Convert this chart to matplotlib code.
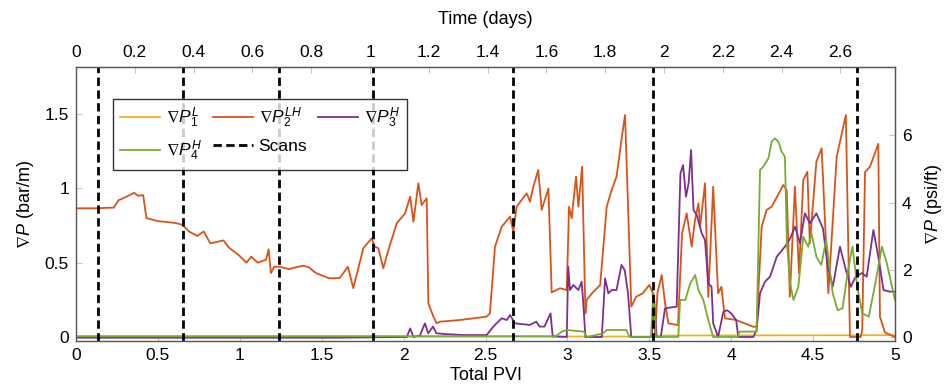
import matplotlib
matplotlib.use("Agg")
import matplotlib.pyplot as plt

plt.rcParams['font.family'] = ['Liberation Sans', 'DejaVu Sans']
plt.rcParams['mathtext.fontset'] = 'custom'
plt.rcParams['mathtext.rm'] = 'Liberation Sans'
plt.rcParams['mathtext.it'] = 'Liberation Sans:italic'
plt.rcParams['mathtext.fallback'] = 'stixsans'

# ---- data (x = total PVI, y = bar/m) ----
pvi_p1 = [0, 3.5, 3.6, 5.0]
dp1 = [0.003, 0.003, 0.01, 0.012]

pvi_p2 = [0, 0.13, 0.20, 0.23, 0.26, 0.30, 0.355, 0.38, 0.41, 0.43, 0.50, 0.61, 0.65, 0.69, 0.74,
          0.78, 0.82, 0.90, 0.935, 0.995, 1.04, 1.07, 1.11, 1.16, 1.176, 1.19, 1.21, 1.24, 1.30,
          1.384, 1.42, 1.465, 1.545, 1.61, 1.66, 1.693, 1.754, 1.805, 1.825, 1.846, 1.876, 1.907,
          1.958, 2.009, 2.04, 2.06, 2.09, 2.11, 2.141, 2.151, 2.182, 2.202, 2.222, 2.35, 2.507,
          2.527, 2.558, 2.599, 2.65, 2.67, 2.69, 2.751, 2.772, 2.792, 2.822, 2.843, 2.884, 2.904,
          2.955, 2.996, 3.01, 3.026, 3.053, 3.067, 3.09, 3.11, 3.118, 3.15, 3.20, 3.24, 3.27, 3.30,
          3.33, 3.352, 3.39, 3.42, 3.46, 3.50, 3.52, 3.535, 3.55, 3.576, 3.596, 3.617, 3.675, 3.70,
          3.728, 3.759, 3.779, 3.80, 3.81, 3.84, 3.86, 3.89, 3.92, 3.94, 3.962, 4.03, 4.135, 4.155,
          4.186, 4.216, 4.247, 4.318, 4.339, 4.358, 4.389, 4.414, 4.44, 4.465, 4.48, 4.52, 4.552,
          4.593, 4.644, 4.70, 4.725, 4.79, 4.80, 4.817, 4.847, 4.898, 4.908, 4.939, 5.0]
dp2 = [0.866, 0.866, 0.87, 0.87, 0.92, 0.94, 0.97, 0.95, 0.955, 0.80, 0.78, 0.767, 0.754, 0.71, 0.68,
       0.71, 0.63, 0.65, 0.60, 0.55, 0.50, 0.54, 0.50, 0.52, 0.59, 0.43, 0.473, 0.473, 0.457,
       0.48, 0.47, 0.43, 0.395, 0.397, 0.473, 0.328, 0.597, 0.664, 0.608, 0.597, 0.462, 0.585,
       0.765, 0.832, 0.944, 0.776, 1.034, 0.888, 0.933, 0.227, 0.137, 0.092, 0.103, 0.115, 0.137,
       0.159, 0.608, 0.742, 0.81, 0.709, 0.877, 0.967, 0.911, 1.011, 1.124, 0.855, 1.0, 0.30,
       0.328, 0.316, 0.877, 0.799, 1.079, 0.877, 1.146, 0.159, 0.249, 0.294, 0.35, 0.877, 0.989, 1.079,
       1.326, 1.494, 0.204, 0.271, 0.294, 0.35, 0.30, 0.02, 0.30, 0.417, 0.227, 0.092, 0.08, 0.698,
       0.832, 0.608, 0.787, 0.90, 0.742, 1.034, 0.27, 1.011, 0.294, 0.338, 0.126, 0.114, 0.069, 0.069,
       0.742, 0.855, 0.877, 1.023, 0.989, 0.271, 1.011, 0.429, 1.057, 1.112, 0.63, 1.18, 1.27,
       0.294, 1.213, 1.494, 0.0, 0.0, 0.05, 1.11, 1.146, 1.30, 0.137, 0.03, 0.0]

pvi_p3 = [0, 1.6, 2.0, 2.02, 2.04, 2.06, 2.10, 2.13, 2.15, 2.18, 2.2, 2.25, 2.365, 2.507, 2.548,
          2.599, 2.63, 2.65, 2.68, 2.77, 2.81, 2.83, 2.86, 2.897, 2.91, 2.996, 3.005, 3.016, 3.036,
          3.067, 3.087, 3.097, 3.11, 3.21, 3.23, 3.25, 3.27, 3.30, 3.33, 3.35, 3.37, 3.39, 3.514,
          3.53, 3.545, 3.57, 3.596, 3.667, 3.69, 3.706, 3.724, 3.74, 3.755, 3.77, 3.79, 3.82, 3.84,
          3.86, 3.88, 3.89, 3.92, 3.952, 3.975, 4.0, 4.03, 4.043, 4.135, 4.155, 4.176, 4.206, 4.237,
          4.278, 4.328, 4.36, 4.39, 4.42, 4.45, 4.48, 4.52, 4.56, 4.59, 4.62, 4.664, 4.70, 4.73,
          4.76, 4.797, 4.827, 4.868, 4.898, 4.93, 4.97, 5.0]
dp3 = [-0.005, -0.005, 0.0, 0.0, 0.058, 0.0, 0.01, 0.092, 0.025, 0.07, 0.025, 0.02, 0.013, 0.013, 0.07,
       0.126, 0.114, 0.148, 0.092, 0.081, 0.103, 0.07, 0.07, 0.159, 0.005, 0.0, 0.473, 0.316, 0.35,
       0.316, 0.372, 0.227, 0.0, 0.0, 0.395, 0.294, 0.316, 0.316, 0.485, 0.45, 0.294, 0.0, 0.0,
       0.25, 0.0, 0.0, 0.193, 0.204, 1.10, 1.157, 0.944, 1.034, 1.258, 0.855, 0.821, 0.698, 0.653,
       0.361, 0.338, 0.092, 0.0, 0.17, 0.18, 0.159, 0.114, 0.0, 0.0, 0.047, 0.294, 0.372, 0.406,
       0.54, 0.608, 0.664, 0.742, 0.63, 0.832, 0.765, 0.832, 0.731, 0.473, 0.338, 0.608, 0.45, 0.338,
       0.406, 0.43, 0.406, 0.72, 0.54, 0.316, 0.305, 0.305]

pvi_p4 = [0, 2.9, 2.925, 2.965, 2.996, 3.1, 3.12, 3.22, 3.24, 3.36, 3.38, 3.51, 3.525, 3.54, 3.677,
          3.688, 3.72, 3.75, 3.78, 3.80, 3.83, 3.86, 3.89, 4.04, 4.05, 4.155, 4.176, 4.196, 4.227,
          4.247, 4.267, 4.288, 4.308, 4.328, 4.34, 4.36, 4.38, 4.41, 4.44, 4.47, 4.49, 4.52, 4.55,
          4.58, 4.62, 4.65, 4.68, 4.71, 4.74, 4.77, 4.80, 4.84, 4.88, 4.92, 4.95, 5.0]
dp4 = [0.005, 0.005, 0.0, 0.036, 0.047, 0.036, 0.0, 0.025, 0.047, 0.047, 0.0, 0.0, 0.3, 0.0, 0.0,
       0.249, 0.249, 0.361, 0.417, 0.316, 0.249, 0.114, 0.0, 0.0, 0.036, 0.036, 1.124, 1.146, 1.202,
       1.314, 1.337, 1.314, 1.247, 1.213, 0.63, 0.361, 0.249, 0.338, 0.675, 0.608, 0.698, 0.54, 0.485,
       0.653, 0.294, 0.18, 0.193, 0.43, 0.608, 0.338, 0.159, 0.137, 0.361, 0.608, 0.496, 0.249]

scans_pvi = [0.132, 0.653, 1.241, 1.811, 2.670, 3.521, 4.770]

pvi_per_day = 1.795
psi_ft_per_bar_m = 4.4209

top_ticks = [0, 0.2, 0.4, 0.6, 0.8, 1, 1.2, 1.4, 1.6, 1.8, 2, 2.2, 2.4, 2.6]
bottom_ticks = [0, 0.5, 1, 1.5, 2, 2.5, 3, 3.5, 4, 4.5, 5]
left_ticks = [0, 0.5, 1, 1.5]
right_ticks = [0, 2, 4, 6]

c1, c2, c3, c4 = '#EDB120', '#D95319', '#7E2F8E', '#77AC30'

fig = plt.figure(figsize=(9.46, 3.89), dpi=100)
ax = fig.add_axes([76/946, 1-341/389, (895-76)/946, (341-67)/389])

lw = 1.3
h1, = ax.plot(pvi_p1, dp1, color=c1, lw=lw, label=r'$\nabla P_1^L$')
h2, = ax.plot(pvi_p2, dp2, color=c2, lw=lw, label=r'$\nabla P_2^{LH}$')
h3, = ax.plot(pvi_p3, dp3, color=c3, lw=lw, label=r'$\nabla P_3^H$')
h4, = ax.plot(pvi_p4, dp4, color=c4, lw=lw, label=r'$\nabla P_4^H$')
hs = None
for i, s in enumerate(scans_pvi):
    ln = ax.axvline(s, color='black', ls=(0, (3, 1.6)), lw=2.0, label='Scans' if i == 0 else None)
    if i == 0:
        hs = ln

ax.set_xlim(0, 5)
ax.set_ylim(-0.027, 1.817)
ax.set_xticks(bottom_ticks)
ax.set_xticklabels([f'{t:g}' for t in bottom_ticks])
ax.set_yticks(left_ticks)
ax.set_yticklabels([f'{t:g}' for t in left_ticks])

fs = 12.5
spine_c = '#555555'
for sp in ax.spines.values():
    sp.set_color(spine_c)
    sp.set_linewidth(1.0)
ax.tick_params(direction='in', length=4, width=0.6, color='#bbbbbb', labelsize=fs, pad=5)

ax.set_xlabel('Total PVI', fontsize=fs + 0.5, labelpad=3)
ax.set_ylabel(r'$\nabla P$ (bar/m)', fontsize=fs + 0.5, labelpad=6)

top = ax.secondary_xaxis('top', functions=(lambda x: x / pvi_per_day, lambda d: d * pvi_per_day))
top.set_xticks(top_ticks)
top.set_xticklabels([f'{t:g}' for t in top_ticks])
top.tick_params(direction='in', length=4, width=0.6, color='#bbbbbb', labelsize=fs, pad=5)
top.set_xlabel('Time (days)', fontsize=fs + 0.5, labelpad=15)
top.spines['top'].set_color(spine_c)

right = ax.secondary_yaxis('right', functions=(lambda y: y * psi_ft_per_bar_m, lambda p: p / psi_ft_per_bar_m))
right.set_yticks(right_ticks)
right.set_yticklabels([f'{t:g}' for t in right_ticks])
right.tick_params(direction='in', length=4, width=0.6, color='#bbbbbb', labelsize=fs, pad=5)
right.set_ylabel(r'$\nabla P$ (psi/ft)', fontsize=fs + 0.5, labelpad=8)
right.spines['right'].set_color(spine_c)

# column-major fill: gives rows [P1, P2, P3] and [P4, Scans]
order = [h1, h4, h2, hs, h3]
leg = ax.legend(order, [h.get_label() for h in order], ncol=3, loc='upper left',
                bbox_to_anchor=((113-76)/819, (341-99)/274),
                fontsize=fs, frameon=True, fancybox=False, edgecolor='black',
                handlelength=2.3, handletextpad=0.35, columnspacing=0.6,
                borderpad=0.4, labelspacing=0.5, borderaxespad=0)
leg.get_frame().set_linewidth(1.0)

fig.savefig('out.png', dpi=100)
